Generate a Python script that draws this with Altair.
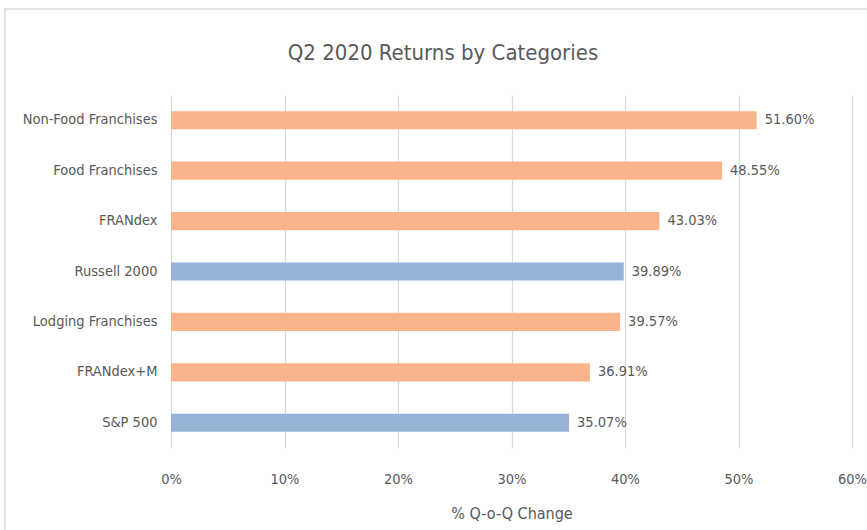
import altair as alt
import pandas as pd

categories = ["Non-Food Franchises", "Food Franchises", "FRANdex", "Russell 2000",
              "Lodging Franchises", "FRANdex+M", "S&P 500"]
returns = [0.5160, 0.4855, 0.4303, 0.3989, 0.3957, 0.3691, 0.3507]
groups = ["Franchise", "Franchise", "Franchise", "Index", "Franchise", "Franchise", "Index"]
x_ticks = [0, 0.1, 0.2, 0.3, 0.4, 0.5, 0.6]
title_text = "Q2 2020 Returns by Categories"
x_title = "% Q-o-Q Change"

FONT = "DejaVu Sans Condensed, sans-serif"
GREY = "#595959"

df = pd.DataFrame({"category": categories, "ret": returns, "group": groups})
df["label"] = [f"{v*100:.2f}%" for v in returns]

W, H = 681, 353
LEFT, TOP = 171, 95
RIGHT, BOTTOM = 867 - 171 - 681, 530 - 95 - 353

base = alt.Chart(df)

y_enc = alt.Y("category:N", sort=categories, title=None,
              scale=alt.Scale(paddingInner=0.64, paddingOuter=0.32),
              axis=alt.Axis(labelFont=FONT, labelFontSize=14.5, labelColor=GREY,
                            labelPadding=14, ticks=False, domain=False, grid=False))

bars = base.mark_bar().encode(
    x=alt.X("ret:Q", title=x_title,
            scale=alt.Scale(domain=[0, 0.6], nice=False),
            axis=alt.Axis(values=x_ticks, format=".0%", labelFont=FONT, labelFontSize=14.5,
                          labelColor=GREY, labelPadding=24, ticks=False, domain=False,
                          labelFlush=False, labelOverlap=False,
                          grid=True, gridColor="#D9D9D9", gridWidth=1.2,
                          titleFont=FONT, titleFontSize=16, titleColor=GREY,
                          titleFontWeight="normal", titlePadding=20)),
    y=y_enc,
    color=alt.Color("group:N", scale=alt.Scale(domain=["Franchise", "Index"],
                                               range=["#F9B48C", "#95B3D7"]), legend=None),
)

labels = base.mark_text(align="left", baseline="middle", dx=8, font=FONT,
                        fontSize=14.5, color=GREY).encode(
    x="ret:Q", y=alt.Y("category:N", sort=categories), text="label:N")

title = alt.Chart(pd.DataFrame({"t": [title_text]})).mark_text(
    font=FONT, fontSize=22, color=GREY, align="center", baseline="middle").encode(
    x=alt.value(443 - LEFT), y=alt.value(53 - TOP), text="t:N")

border = alt.Chart(pd.DataFrame({"a": [0]})).mark_rect(
    fill=None, stroke="#D9D9D9", strokeWidth=1.5).encode(
    x=alt.value(5 - LEFT), x2=alt.value(880 - LEFT),
    y=alt.value(9 - TOP), y2=alt.value(560 - TOP))

chart = alt.layer(border, bars, labels, title).properties(
    width=W, height=H,
    padding={"left": LEFT, "top": TOP, "right": RIGHT, "bottom": BOTTOM},
    autosize=alt.AutoSizeParams(type="none"),
    background="white",
).configure_view(stroke=None)

chart.save("out.html", embed_options={"renderer": "svg", "actions": False})
